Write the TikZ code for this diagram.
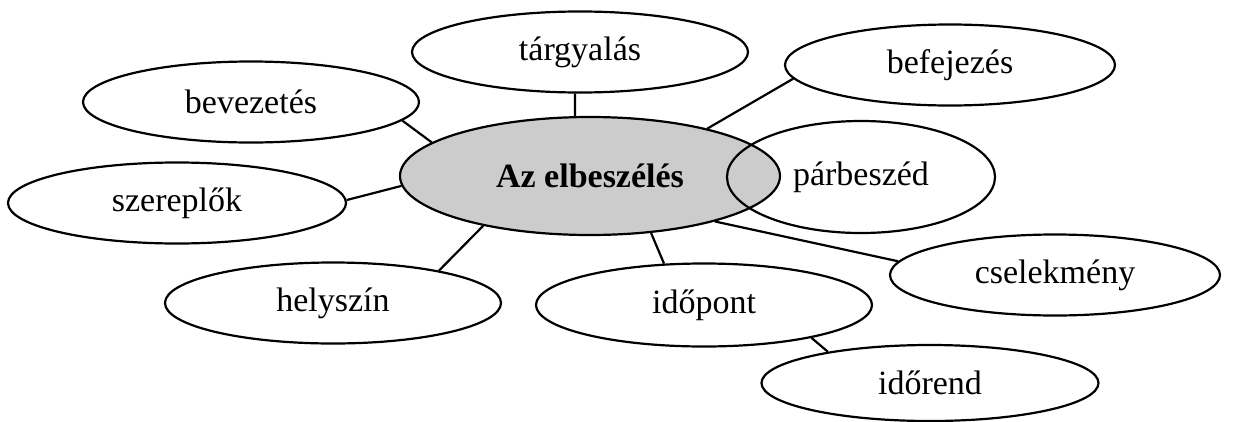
\documentclass[tikz,border=0pt]{standalone}
\usepackage{fontspec}
\setmainfont{Liberation Serif}
\usetikzlibrary{shapes.geometric}

\begin{document}
\begin{tikzpicture}[x=1pt,y=-1pt,line width=2.2pt,
    resz/.style={draw,ellipse,fill=white,inner sep=0pt,minimum width=336pt,minimum height=81pt,
      font=\fontsize{34}{40}\selectfont},
    fo/.style={resz,fill=gray!40,minimum width=380pt,minimum height=118pt,
      font=\fontsize{34}{40}\selectfont\bfseries}]
    \useasboundingbox (0,0) rectangle (1235,421);
    \node[fo] (elb) at (590,176) {Az elbeszélés};
    \node[resz] (targy) at (580,52) {tárgyalás};
    \node[resz,minimum width=330pt] (befej) at (950,65) {befejezés};
    \node[resz] (bevez) at (251,102) {bevezetés};
    \node[resz,minimum width=338pt] (szerep) at (177,203) {szereplők};
    \node[resz,fill=none,minimum width=268pt,minimum height=112pt] (parb) at (861,177) {párbeszéd};
    \node[resz,minimum width=330pt] (cselek) at (1055,275) {cselekmény};
    \node[resz] (helysz) at (333,303) {helyszín};
    \node[resz,minimum height=83pt] (idopont) at (704,305) {időpont};
    \node[resz,minimum width=337pt,minimum height=76pt] (idorend) at (930,383) {időrend};
    % kapcsolatok
    \draw (targy.-97) -- (elb.104);
    \draw (befej.-175) -- (elb.22);
    \draw (bevez.-7) -- (elb.168);
    \draw (szerep.1) -- (elb.-177);
    \draw (helysz.17) -- (elb.-155);
    \draw (idopont.134) -- (elb.-43);
    \draw (cselek.175) -- (elb.-20);
    \draw (idopont.-17) -- (idorend.163);
\end{tikzpicture}
\end{document}
